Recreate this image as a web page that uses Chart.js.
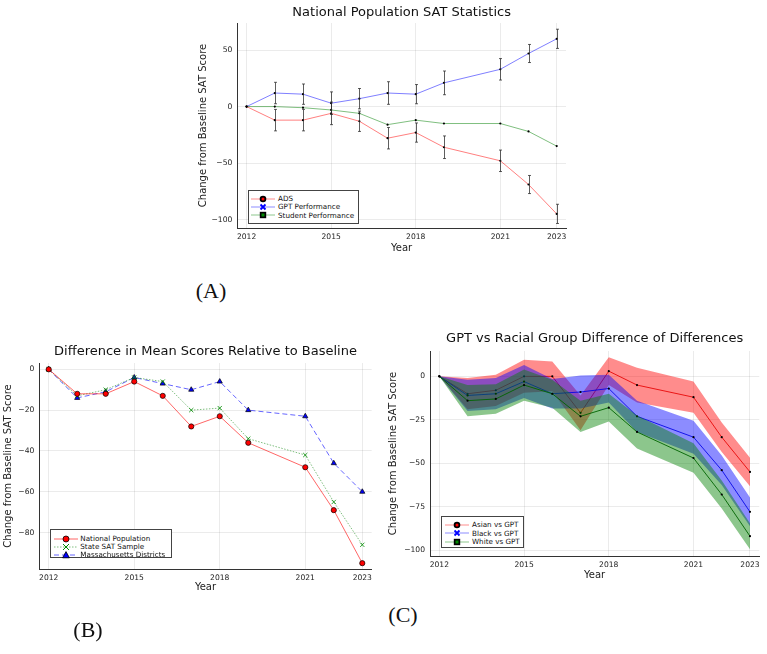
<!DOCTYPE html>
<html>
<head>
<meta charset="utf-8">
<script src="https://cdn.jsdelivr.net/npm/chart.js@4.4.1/dist/chart.umd.min.js"></script>
<style>
  html, body { margin: 0; padding: 0; background: #fff; }
  body { width: 767px; height: 654px; position: relative; overflow: hidden; font-family: "DejaVu Sans", sans-serif; }
  .panel { position: absolute; }
  .panel canvas { display: block; }
  .tag { position: absolute; width: 60px; text-align: center; font-family: "Liberation Serif", serif; font-size: 22px; line-height: 22px; color: #111; }
  .legend { position: absolute; background: #fff; border: 1px solid #444; box-sizing: border-box; font-size: 7.2px; color: #111; }
  .legend-row { display: flex; align-items: center; white-space: nowrap; }
  .legend-row svg { flex: none; }
</style>
</head>
<body>

<div class="panel" style="left:190px;top:0px"><canvas id="chart-a" width="386" height="258"></canvas></div>
<div class="panel" style="left:0px;top:340px"><canvas id="chart-b" width="382" height="259"></canvas></div>
<div class="panel" style="left:380px;top:328px"><canvas id="chart-c" width="387" height="258"></canvas></div>

<div class="legend" id="legend-a" style="left:248px;top:190px;width:111px;height:34px;padding:3.5px 0 0 2px"></div>
<div class="legend" id="legend-b" style="left:50px;top:529px;width:122px;height:29px;padding:4.5px 0 0 3px"></div>
<div class="legend" id="legend-c" style="left:441px;top:516px;width:83px;height:32px;padding:3.8px 0 0 3px"></div>

<div class="tag" style="left:181px;top:280px">(A)</div>
<div class="tag" style="left:58px;top:619px">(B)</div>
<div class="tag" style="left:373px;top:604px">(C)</div>

<script>
'use strict';

/* ── Dados ── */
const YEARS  = [2012, 2013, 2014, 2015, 2016, 2017, 2018, 2019, 2021, 2022, 2023];
const XTICKS = [2012, 2015, 2018, 2021, 2023];

/* (A) National Population SAT Statistics */
const A_LABELS  = ['ADS', 'GPT Performance', 'Student Performance'];
const ADS       = [0, -12, -12, -6, -13, -28, -23, -36, -48, -69, -95];
const ADS_ERR   = [0, 9.5, 9.5, 10, 9, 9.5, 8.5, 10, 9.5, 8, 8.5];
const GPT       = [0, 12, 11, 3, 7, 12, 11, 21, 33, 47, 60];
const GPT_ERR   = [0, 9.5, 9, 10, 9, 10, 8.5, 10.5, 9.5, 8, 8.5];
const STUDENT   = [0, 0, -1, -3, -6, -16, -12, -15, -15, -22, -35];
const A_YTICKS  = [50, 0, -50, -100];

/* (B) Difference in Mean Scores Relative to Baseline */
const B_LABELS  = ['National Population', 'State SAT Sample', 'Massachusetts Districts'];
const NATIONAL  = [0, -12, -12, -6, -13, -28, -23, -36, -48, -69, -95];
const STATE     = [0, -13, -10, -4, -6, -20, -19, -34, -42, -65, -86];
const MASS      = [0, -14, -11, -4, -7, -10, -6, -20, -23, -46, -60];
const B_YTICKS  = [0, -20, -40, -60, -80];

/* (C) GPT vs Racial Group Difference of Differences */
const C_LABELS  = ['Asian vs GPT', 'Black vs GPT', 'White vs GPT'];
const ASIAN     = [0, -10, -8, 0, 0, -21, 3, -5, -12, -35, -55];
const ASIAN_ERR = [0, 9, 9, 9.5, 8.5, 10, 8, 10, 9, 8.5, 8.2];
const BLACK     = [0, -11, -10, -3, -10, -9, -7, -23, -35, -54, -78];
const BLACK_ERR = [0, 9, 9, 9.5, 8.5, 9.5, 8, 9, 9.5, 8.5, 8.3];
const WHITE     = [0, -14, -13, -5, -10, -23, -18, -32, -47, -68, -92];
const WHITE_ERR = [0, 9, 8.5, 9, 8, 9, 8, 9.5, 8.5, 8, 7.5];
const C_YTICKS  = [0, -25, -50, -75, -100];

const FONT = '"DejaVu Sans", sans-serif';
Chart.defaults.font.family = FONT;
Chart.defaults.color = '#222';

/* ============================================================
   HELPERS
   ============================================================ */

/** Junta anos e valores em pontos {x, y} */
function pts(values) {
  return YEARS.map((yr, i) => ({ x: yr, y: values[i] }));
}

/** Sinal de menos tipográfico nos ticks */
function tickMinus(v) {
  return String(v).replace('-', '\u2212');
}

/**
 * Escalas comuns: eixo x linear em anos, eixo y com ticks fixos.
 * yWidth / xHeight fixam a posição da área do gráfico.
 */
function scalesFor(cfg) {
  return {
    x: {
      type: 'linear',
      min: 2011.67,
      max: 2023.33,
      afterBuildTicks: s => { s.ticks = XTICKS.map(v => ({ value: v })); },
      afterFit: s => { s.height = 30; },
      grid: { color: 'rgba(0,0,0,0.08)', drawTicks: false },
      border: { display: true, color: '#333', width: 1 },
      ticks: { autoSkip: false, maxRotation: 0, padding: 4, font: { size: 7.6 }, callback: v => String(v) },
      title: { display: true, text: 'Year', font: { size: 10 }, padding: { top: 0, bottom: cfg.xTitlePad } },
    },
    y: {
      min: cfg.yMin,
      max: cfg.yMax,
      afterBuildTicks: s => { s.ticks = cfg.yTicks.map(v => ({ value: v })); },
      afterFit: s => { s.width = cfg.yWidth; },
      grid: { color: 'rgba(0,0,0,0.08)', drawTicks: false },
      border: { display: true, color: '#333', width: 1 },
      ticks: { padding: 5, font: { size: 7.6 }, callback: tickMinus },
      title: { display: true, text: 'Change from Baseline SAT Score', font: { size: 10 }, padding: { top: cfg.yTitlePad, bottom: 0 } },
    },
  };
}

function titleFor(text, padTop, padBottom) {
  return {
    display: true,
    text,
    fullSize: false,
    color: '#111',
    font: { size: 13, weight: 'normal' },
    padding: { top: padTop, bottom: padBottom },
  };
}

/** Barras de erro verticais desenhadas pelas escalas do gráfico */
const errorBarPlugin = {
  id: 'errorBars',
  afterDatasetsDraw(chart) {
    const { ctx, scales: { x, y } } = chart;
    chart.data.datasets.forEach(ds => {
      if (!ds.errors) return;
      ctx.save();
      ctx.strokeStyle = 'rgba(40,40,40,0.75)';
      ctx.lineWidth = 1;
      ds.data.forEach((p, j) => {
        const e = ds.errors[j];
        if (!e) return;
        const px  = Math.round(x.getPixelForValue(p.x)) + 0.5;
        const top = y.getPixelForValue(p.y + e);
        const bot = y.getPixelForValue(p.y - e);
        ctx.beginPath();
        ctx.moveTo(px, top); ctx.lineTo(px, bot);
        ctx.moveTo(px - 1.5, top); ctx.lineTo(px + 1.5, top);
        ctx.moveTo(px - 1.5, bot); ctx.lineTo(px + 1.5, bot);
        ctx.stroke();
      });
      ctx.restore();
    });
  },
};

/* ── Legendas HTML (estilo Plots.jl) ── */
function markerSvg(kind, color) {
  const line = (dash) => `<line x1="0" y1="4" x2="24" y2="4" stroke="${color.line}" stroke-width="1" ${dash ? `stroke-dasharray="${dash}"` : ''}/>`;
  let mk = '';
  if (kind === 'ringdot')  mk = `<circle cx="12" cy="4" r="3.3" fill="#000"/><circle cx="12" cy="4" r="1.5" fill="${color.fill}"/>`;
  if (kind === 'ringsq')   mk = `<rect x="8.8" y="0.8" width="6.4" height="6.4" fill="#000"/><rect x="10.5" y="2.5" width="3" height="3" fill="${color.fill}"/>`;
  if (kind === 'cross')    mk = `<path d="M9.5 1.5 L14.5 6.5 M14.5 1.5 L9.5 6.5" stroke="${color.fill}" stroke-width="1.8"/>`;
  if (kind === 'circle')   mk = `<circle cx="12" cy="4" r="3" fill="${color.fill}" stroke="#000" stroke-width="0.8"/>`;
  if (kind === 'thincross')mk = `<path d="M9 1 L15 7 M15 1 L9 7" stroke="${color.fill}" stroke-width="1"/>`;
  if (kind === 'triangle') mk = `<path d="M12 0.6 L15.4 6.8 L8.6 6.8 Z" fill="${color.fill}" stroke="#000" stroke-width="0.8"/>`;
  return `<svg width="24" height="8" viewBox="0 0 24 8" style="margin-right:${color.gap}px">${line(color.dash)}${mk}</svg>`;
}

function buildLegend(id, labels, items, rowH) {
  document.getElementById(id).innerHTML = labels.map((lab, i) => `
    <div class="legend-row" style="height:${rowH}px">${markerSvg(items[i].kind, items[i])}${lab}</div>`).join('');
}

/* ============================================================
   GRÁFICO A — erro + três séries
   ============================================================ */
function renderChartA() {
  new Chart(document.getElementById('chart-a'), {
    type: 'line',
    data: {
      datasets: [
        { label: A_LABELS[0], data: pts(ADS), errors: ADS_ERR, borderColor: 'rgba(255,0,0,0.5)' },
        { label: A_LABELS[1], data: pts(GPT), errors: GPT_ERR, borderColor: 'rgba(0,0,255,0.5)' },
        { label: A_LABELS[2], data: pts(STUDENT), borderColor: 'rgba(0,128,0,0.5)' },
      ].map(ds => ({ ...ds, borderWidth: 1, pointRadius: 1.1, pointBackgroundColor: '#000', pointBorderWidth: 0, tension: 0 })),
    },
    options: {
      responsive: false,
      animation: false,
      layout: { padding: { left: 0, right: 10, top: 0, bottom: 0 } },
      plugins: {
        legend: { display: false },
        tooltip: { enabled: false },
        title: titleFor('National Population SAT Statistics', 4.4, 3.0),
      },
      scales: scalesFor({ yMin: -107.5, yMax: 74, yTicks: A_YTICKS, yWidth: 47.3, yTitlePad: 7, xTitlePad: 4 }),
    },
    plugins: [errorBarPlugin],
  });

  buildLegend('legend-a', A_LABELS, [
    { kind: 'ringdot', fill: '#f00', line: 'rgba(255,0,0,0.45)', gap: 3 },
    { kind: 'cross',   fill: '#00f', line: 'rgba(0,0,255,0.45)', gap: 3 },
    { kind: 'ringsq',  fill: '#080', line: 'rgba(0,128,0,0.45)', gap: 3 },
  ], 8.3);
}

/* ============================================================
   GRÁFICO B — três estilos de linha
   ============================================================ */
function renderChartB() {
  new Chart(document.getElementById('chart-b'), {
    type: 'line',
    data: {
      datasets: [
        {
          label: B_LABELS[0], data: pts(NATIONAL),
          borderColor: 'rgba(255,0,0,0.6)', borderWidth: 1,
          pointStyle: 'circle', pointRadius: 2.6, pointBackgroundColor: '#f00', pointBorderColor: '#000', pointBorderWidth: 0.7,
        },
        {
          label: B_LABELS[1], data: pts(STATE),
          borderColor: 'rgba(0,128,0,0.5)', borderWidth: 1, borderDash: [1.5, 1.5],
          pointStyle: 'crossRot', pointRadius: 3, pointBorderColor: 'rgba(0,140,0,0.9)', pointBorderWidth: 0.9,
        },
        {
          label: B_LABELS[2], data: pts(MASS),
          borderColor: 'rgba(0,0,255,0.6)', borderWidth: 1, borderDash: [5, 3],
          pointStyle: 'triangle', pointRadius: 3, pointBackgroundColor: '#00f', pointBorderColor: '#000', pointBorderWidth: 0.7,
        },
      ].map(ds => ({ ...ds, tension: 0 })),
    },
    options: {
      responsive: false,
      animation: false,
      layout: { padding: { left: 0, right: 10.3, top: 0, bottom: 0 } },
      plugins: {
        legend: { display: false },
        tooltip: { enabled: false },
        title: titleFor('Difference in Mean Scores Relative to Baseline', 3.9, 3.5),
      },
      scales: scalesFor({ yMin: -97.85, yMax: 3.1, yTicks: B_YTICKS, yWidth: 39.3, yTitlePad: 2, xTitlePad: 5.3 }),
    },
  });

  buildLegend('legend-b', B_LABELS, [
    { kind: 'circle',    fill: '#f00', line: 'rgba(255,0,0,0.6)', gap: 2.3 },
    { kind: 'thincross', fill: '#080', line: 'rgba(0,128,0,0.5)', gap: 2.3, dash: '1.5 1.5' },
    { kind: 'triangle',  fill: '#00f', line: 'rgba(0,0,255,0.6)', gap: 2.3, dash: '5 3' },
  ], 8);
}

/* ============================================================
   GRÁFICO C — faixas (ribbons) por grupo
   ============================================================ */

/** Limite superior e inferior da faixa, preenchida entre os dois */
function bandSets(values, errs, fill, order) {
  const edge = { borderWidth: 0, pointRadius: 0, tension: 0, order };
  return [
    { ...edge, data: pts(values.map((v, i) => v + errs[i])), fill: false },
    { ...edge, data: pts(values.map((v, i) => v - errs[i])), fill: '-1', backgroundColor: fill },
  ];
}

function lineSet(label, values, color, order) {
  return {
    label, data: pts(values), borderColor: color, borderWidth: 1, tension: 0, order,
    pointRadius: 1.1, pointBackgroundColor: '#000', pointBorderWidth: 0,
  };
}

function renderChartC() {
  new Chart(document.getElementById('chart-c'), {
    type: 'line',
    data: {
      datasets: [
        ...bandSets(ASIAN, ASIAN_ERR, 'rgba(255,0,0,0.45)', 3),
        lineSet(C_LABELS[0], ASIAN, 'rgba(230,0,0,0.85)', 2.5),
        ...bandSets(BLACK, BLACK_ERR, 'rgba(0,0,255,0.45)', 2),
        lineSet(C_LABELS[1], BLACK, 'rgba(0,0,230,0.85)', 1.5),
        ...bandSets(WHITE, WHITE_ERR, 'rgba(0,128,0,0.45)', 1),
        lineSet(C_LABELS[2], WHITE, 'rgba(0,100,0,0.9)', 0.5),
      ],
    },
    options: {
      responsive: false,
      animation: false,
      layout: { padding: { left: 0, right: 7.7, top: 0, bottom: 0 } },
      plugins: {
        legend: { display: false },
        tooltip: { enabled: false },
        filler: { propagate: false },
        title: titleFor('GPT vs Racial Group Difference of Differences', 2.5, 4.9),
      },
      scales: scalesFor({ yMin: -103.4, yMax: 14.6, yTicks: C_YTICKS, yWidth: 50, yTitlePad: 7.3, xTitlePad: 5 }),
    },
  });

  buildLegend('legend-c', C_LABELS, [
    { kind: 'ringdot', fill: '#f00', line: 'rgba(255,0,0,0.45)', gap: 3 },
    { kind: 'cross',   fill: '#00f', line: 'rgba(0,0,255,0.45)', gap: 3 },
    { kind: 'ringsq',  fill: '#080', line: 'rgba(0,128,0,0.45)', gap: 3 },
  ], 8.35);
}

renderChartA();
renderChartB();
renderChartC();
</script>
</body>
</html>
